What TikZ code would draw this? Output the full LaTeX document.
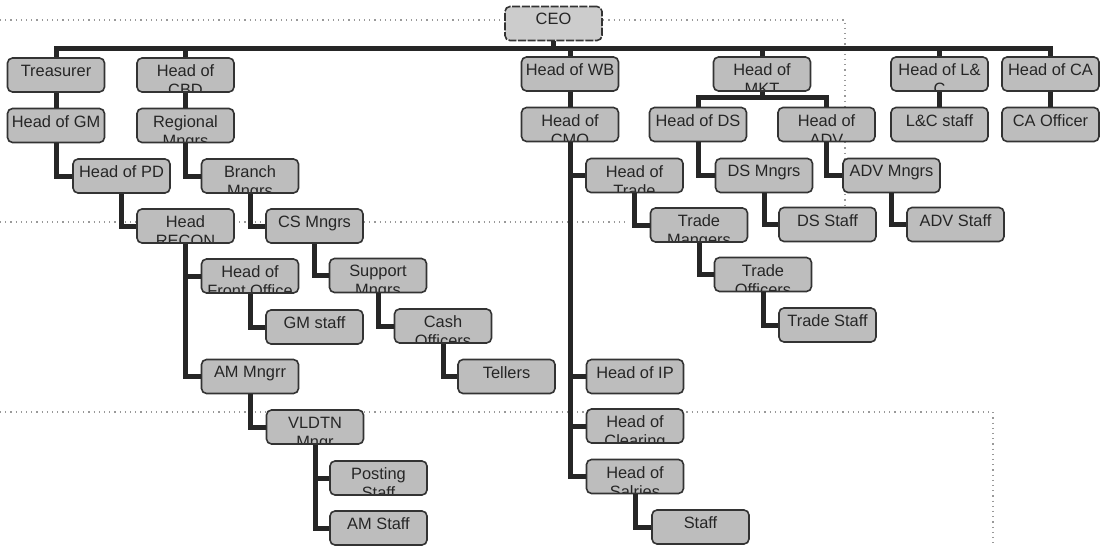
\documentclass[tikz,border=0pt]{standalone}
\usepackage{fontspec}
\setmainfont{Liberation Sans}
\usetikzlibrary{calc}
\tikzset{
  unit/.style={draw=black!80, line width=0.8pt, fill=black!26, rounded corners=2.5pt,
    minimum width=48.5pt, minimum height=17pt, inner sep=0pt,
    path picture={\node[anchor=north, align=center, inner sep=0pt, minimum width=0pt,
      minimum height=0pt, text=black!85, font=\fontsize{8.2}{9.4}\selectfont]
      at ([yshift=5.4pt]path picture bounding box.center) {#1};}},
  link/.style={draw=black!85, line width=2.5pt},
  faint/.style={draw=black!40, dotted, line width=0.6pt}
}
\begin{document}
\begin{tikzpicture}[x=0.5pt,y=-0.5pt]
  \useasboundingbox (0,0) rectangle (1100,546);
  \draw[faint] (0,20) -- (845,20) -- (845,240);
  \draw[faint] (0,222) -- (628,222);
  \draw[faint] (0,412) -- (993,412) -- (993,546);

  \node[unit=CEO, fill=black!20, dash pattern=on 4pt off 0.8pt] (ceo) at (553.5,23.5) {};
  \node[unit=Treasurer] (treas) at (56,75) {};
  \node[unit={Head of\\CBD}] (cbd) at (185.5,75) {};
  \node[unit={Head of WB}] (wb) at (570,74) {};
  \node[unit={Head of\\MKT}] (mkt) at (762,74) {};
  \node[unit={Head of L\&\\C}] (lc) at (939.5,74) {};
  \node[unit={Head of CA}] (ca) at (1050.5,74) {};

  \node[unit={Head of GM}] (gm) at (56,125.5) {};
  \node[unit={Regional\\Mngrs}] (reg) at (185.5,125.5) {};
  \node[unit={Head of\\CMO}] (cmo) at (570,124.5) {};
  \node[unit={Head of DS}] (ds) at (698,124.5) {};
  \node[unit={Head of\\ADV}] (adv) at (826.5,124.5) {};
  \node[unit={L\&C staff}] (lcst) at (939.5,124.5) {};
  \node[unit={CA Officer}] (caoff) at (1050.5,124.5) {};

  \node[unit={Head of PD}] (pd) at (121.5,176) {};
  \node[unit={Branch\\Mngrs}] (branch) at (250,176) {};
  \node[unit={Head of\\Trade}] (trade) at (634.5,175.5) {};
  \node[unit={DS Mngrs}] (dsm) at (764,175.5) {};
  \node[unit={ADV Mngrs}] (advm) at (891.5,175.5) {};

  \node[unit={Head\\RECON}] (recon) at (185.5,226) {};
  \node[unit={CS Mngrs}] (cs) at (314.5,226) {};
  \node[unit={Trade\\Mangers}] (tmgr) at (699,225) {};
  \node[unit={DS Staff}] (dsst) at (827.5,224.5) {};
  \node[unit={ADV Staff}] (advst) at (955.5,224.5) {};

  \node[unit={Head of\\Front Office}] (front) at (250,276) {};
  \node[unit={Support\\Mngrs}] (support) at (378,275.5) {};
  \node[unit={Trade\\Officers}] (toff) at (763,274.5) {};

  \node[unit={GM staff}] (gmst) at (314.5,327) {};
  \node[unit={Cash\\Officers}] (cash) at (443,326) {};
  \node[unit={Trade Staff}] (tstaff) at (827.5,325) {};

  \node[unit={AM Mngrr}] (amm) at (250,376.5) {};
  \node[unit={Tellers}] (tellers) at (506.5,376.5) {};
  \node[unit={Head of IP}] (ip) at (635,376.5) {};

  \node[unit={VLDTN\\Mngr}] (vldtn) at (315,427) {};
  \node[unit={Head of\\Clearing}] (clear) at (635,426) {};

  \node[unit={Posting\\Staff}] (posting) at (378.5,478) {};
  \node[unit={Head of\\Salries}] (salries) at (635,476.5) {};

  \node[unit={AM Staff}] (amst) at (378.5,528) {};
  \node[unit={Staff}] (staff) at (700.5,527) {};

  \coordinate (bus) at (553.5,48);
  \coordinate (mbus) at (762,97);
  \draw[link] (treas.north) |- (bus) -| (ca.north);
  \draw[link] (ceo.south) -- (bus);
  \foreach \n in {cbd,wb,mkt,lc}
    \draw[link] (\n.north) -- (\n.north |- bus);
  \foreach \a/\b in {treas/gm,cbd/reg,wb/cmo,lc/lcst,ca/caoff}
    \draw[link] (\a.south) -- (\b.north);
  \draw[link] (mkt.south) -- (mkt.south |- mbus);
  \draw[link] (ds.north) |- (mbus) -| (adv.north);
  \foreach \a/\b in {gm/pd,pd/recon,recon/front,recon/amm,front/gmst,amm/vldtn,vldtn/posting,vldtn/amst,
      reg/branch,branch/cs,cs/support,support/cash,cash/tellers,
      cmo/trade,cmo/ip,cmo/clear,cmo/salries,trade/tmgr,tmgr/toff,toff/tstaff,salries/staff,
      ds/dsm,dsm/dsst,adv/advm,advm/advst}
    \draw[link] (\a.south) |- (\b.west);
\end{tikzpicture}
\end{document}
